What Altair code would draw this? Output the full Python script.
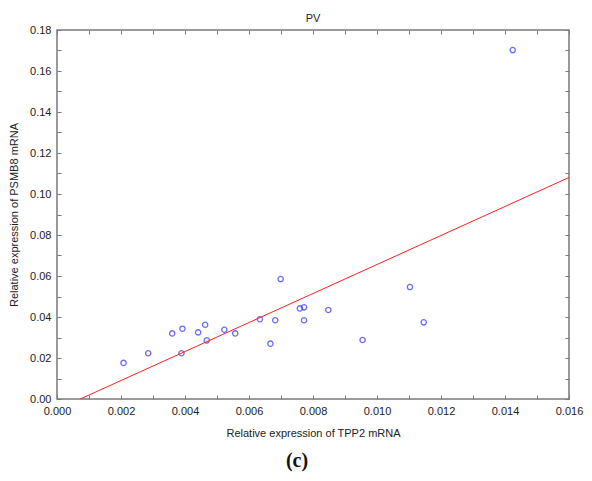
import altair as alt
import pandas as pd

tpp2 = [0.00208, 0.00285, 0.00360, 0.00392, 0.00389, 0.00441, 0.00463, 0.00468,
        0.00523, 0.00557, 0.00634, 0.00667, 0.00682, 0.00699, 0.00759, 0.00772,
        0.00772, 0.00848, 0.00955, 0.01103, 0.01146, 0.01424]
psmb8 = [0.0176, 0.0223, 0.0320, 0.0343, 0.0223, 0.0325, 0.0362, 0.0286,
         0.0338, 0.0320, 0.0389, 0.0270, 0.0384, 0.0585, 0.0442, 0.0447,
         0.0384, 0.0434, 0.0288, 0.0546, 0.0374, 0.1702]

x_major = [0.000, 0.002, 0.004, 0.006, 0.008, 0.010, 0.012, 0.014, 0.016]
x_minor = [i / 1000 for i in range(0, 17)]
y_major = [0.00, 0.02, 0.04, 0.06, 0.08, 0.10, 0.12, 0.14, 0.16, 0.18]
y_minor = [i / 100 for i in range(0, 19)]

df = pd.DataFrame({"tpp2": tpp2, "psmb8": psmb8})

W, H = 512, 369
FONT = "Liberation Sans"
GRAY = "#7a7a7a"

xs = alt.Scale(domain=[0, 0.016], nice=False, zero=False)
ys = alt.Scale(domain=[0, 0.18], nice=False, zero=False)

base = alt.Chart(df)

points = base.mark_point(shape="circle", filled=False, size=28, strokeWidth=1.3,
                         color="#3030f5").encode(
    x=alt.X("tpp2:Q", scale=xs, title="Relative expression of TPP2 mRNA",
            axis=alt.Axis(orient="bottom", values=x_major, format=".3f", tickSize=0,
                          domain=False, grid=False, labelPadding=6, titlePadding=11,
                          labelFlush=False, labelOverlap=False,
                          labelFontSize=11, titleFontSize=11, labelFont=FONT, titleFont=FONT,
                          labelColor="#222", titleColor="#222", titleFontWeight="normal")),
    y=alt.Y("psmb8:Q", scale=ys, title="Relative expression of PSMB8 mRNA",
            axis=alt.Axis(orient="left", values=y_major, format=".2f", tickSize=0,
                          domain=False, grid=False, labelPadding=6, titlePadding=10,
                          labelFlush=False, labelOverlap=False,
                          labelFontSize=11, titleFontSize=11, labelFont=FONT, titleFont=FONT,
                          labelColor="#222", titleColor="#222", titleFontWeight="normal")),
)

line = base.transform_regression("tpp2", "psmb8", extent=[0, 0.016]).mark_line(
    color="#ff2020", strokeWidth=1, clip=True).encode(
    x=alt.X("tpp2:Q", scale=xs,
            axis=alt.Axis(orient="bottom", values=x_minor, labels=False, title=None,
                          domain=False, grid=False, tickSize=4, offset=-4,
                          tickColor=GRAY, tickWidth=1)),
    y=alt.Y("psmb8:Q", scale=ys,
            axis=alt.Axis(orient="left", values=y_minor, labels=False, title=None,
                          domain=False, grid=False, tickSize=4, offset=-4,
                          tickColor=GRAY, tickWidth=1)),
)

ghost = base.mark_point(opacity=0).encode(
    x=alt.X("tpp2:Q", scale=xs,
            axis=alt.Axis(orient="top", values=x_minor, labels=False, title=None,
                          domain=False, grid=False, tickSize=4, offset=-4,
                          tickColor=GRAY, tickWidth=1)),
    y=alt.Y("psmb8:Q", scale=ys,
            axis=alt.Axis(orient="right", values=y_minor, labels=False, title=None,
                          domain=False, grid=False, tickSize=4, offset=-4,
                          tickColor=GRAY, tickWidth=1)),
)

label = alt.Chart(pd.DataFrame({"t": ["(c)"]})).mark_text(
    font="Liberation Serif", fontSize=20, fontWeight="bold", color="#111",
    baseline="middle", align="center").encode(
    text="t:N", x=alt.value(240), y=alt.value(431))

chart = alt.layer(points, line, ghost, label).resolve_axis(
    x="independent", y="independent"
).properties(
    width=W, height=H,
    title=alt.TitleParams("PV", font=FONT, fontSize=11, fontWeight="normal",
                          color="#222", offset=0),
    autosize=alt.AutoSizeParams(type="none"),
    padding={"left": 49, "top": 22, "right": 15, "bottom": 80},
).configure_view(stroke=GRAY, strokeWidth=1.5)

chart.save("out.html", embed_options={"renderer": "svg", "actions": False})
